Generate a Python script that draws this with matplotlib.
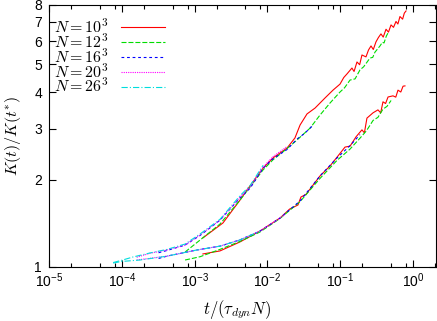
import matplotlib
matplotlib.use("Agg")
import matplotlib.pyplot as plt
from matplotlib.ticker import FixedLocator, NullFormatter

plt.rcParams['font.family'] = ['Liberation Sans', 'DejaVu Sans']
plt.rcParams['mathtext.fontset'] = 'custom'
plt.rcParams['mathtext.rm'] = 'Liberation Sans'
plt.rcParams['mathtext.it'] = 'Liberation Sans:italic'
plt.rcParams['mathtext.bf'] = 'Liberation Sans:bold'
plt.rcParams['lines.scale_dashes'] = False

labels = [r'$N=10^3$', r'$N=12^3$', r'$N=16^3$', r'$N=20^3$', r'$N=26^3$']
colors = ['#ff0000', '#00dd00', '#0000ff', '#ff00ff', '#00dddd']

# ---- upper family of curves ----
t_up_10 = [1.3e-3, 2.45e-3, 4.2e-3, 5.25e-3, 8.7e-3, 0.0119, 0.0186, 0.0239, 0.0281, 0.035,
           0.0451, 0.0618, 0.0796, 0.0994, 0.112, 0.124, 0.145, 0.155, 0.170, 0.185, 0.199,
           0.226, 0.245, 0.265, 0.285, 0.310, 0.335, 0.363, 0.39, 0.426, 0.46, 0.499, 0.54,
           0.584, 0.62, 0.662, 0.72, 0.76, 0.802]
K_up_10 = [1.26, 1.418, 1.70, 1.843, 2.19, 2.375, 2.57, 2.785, 3.086, 3.37,
           3.53, 3.824, 4.07, 4.27, 4.50, 4.63, 4.85, 4.72, 5.09, 4.98, 5.38,
           5.30, 5.60, 5.78, 5.62, 5.97, 6.18, 6.36, 6.20, 6.60, 6.45, 6.83, 6.70,
           7.02, 6.88, 7.30, 7.15, 7.50, 7.63]
t_up_12 = [7.4e-4, 1.19e-3, 2.23e-3, 4.2e-3, 8.7e-3, 0.0119, 0.0186, 0.0255, 0.0385, 0.0528,
           0.0725, 0.0994, 0.115, 0.1366, 0.16, 0.187, 0.21, 0.2565, 0.28, 0.30, 0.352,
           0.38, 0.40, 0.43, 0.454]
K_up_12 = [1.126, 1.239, 1.406, 1.70, 2.16, 2.34, 2.56, 2.74, 3.01, 3.34,
           3.675, 4.01, 4.15, 4.41, 4.45, 4.78, 4.90, 5.25, 5.28, 5.50, 5.78,
           5.95, 5.92, 6.25, 6.41]
t_up_16 = [3.2e-4, 4.18e-4, 7.4e-4, 1.19e-3, 2.23e-3, 4.2e-3, 5.8e-3, 8.7e-3, 0.0119, 0.0186,
           0.0255, 0.032, 0.043]
K_up_16 = [1.12, 1.14, 1.19, 1.285, 1.45, 1.73, 1.87, 2.19, 2.36, 2.54,
           2.76, 2.88, 3.09]
t_up_20 = [1.6e-4, 2.44e-4, 4.18e-4, 7.4e-4, 1.19e-3, 2.23e-3, 4.2e-3, 5.8e-3, 8.7e-3, 0.0119,
           0.0186]
K_up_20 = [1.08, 1.115, 1.145, 1.19, 1.29, 1.45, 1.74, 1.89, 2.21, 2.40,
           2.60]
t_up_26 = [7.6e-5, 1.0e-4, 1.43e-4, 2.44e-4, 4.18e-4, 7.4e-4, 1.19e-3, 2.23e-3, 4.2e-3, 5.8e-3,
           8.7e-3]
K_up_26 = [1.036, 1.055, 1.083, 1.118, 1.15, 1.20, 1.30, 1.46, 1.76, 1.91,
           2.24]

# ---- lower family of curves ----
t_lo_10 = [1.3e-3, 2.23e-3, 4.2e-3, 7.9e-3, 0.0149, 0.0203, 0.0263, 0.0289, 0.0339, 0.0528,
           0.0725, 0.0903, 0.1164, 0.1366, 0.165, 0.199, 0.215, 0.233, 0.2825, 0.330, 0.36,
           0.387, 0.42, 0.454, 0.531, 0.58, 0.622, 0.68, 0.73, 0.776]
K_lo_10 = [1.109, 1.136, 1.22, 1.33, 1.475, 1.585, 1.636, 1.743, 1.78, 2.06,
           2.23, 2.39, 2.59, 2.61, 2.81, 2.97, 2.90, 3.26, 3.40, 3.48, 3.40,
           3.71, 3.66, 3.855, 3.89, 3.85, 4.07, 4.01, 4.20, 4.21]
t_lo_12 = [7.4e-4, 1.19e-3, 2.23e-3, 4.2e-3, 7.9e-3, 0.0149, 0.0281, 0.0528, 0.0903, 0.1366,
           0.187, 0.23, 0.2825, 0.33, 0.387, 0.44, 0.5]
K_lo_12 = [1.057, 1.085, 1.15, 1.225, 1.32, 1.47, 1.68, 2.02, 2.33, 2.55,
           2.78, 2.95, 3.2, 3.28, 3.5, 3.58, 3.75]
t_lo_16 = [3.2e-4, 4.18e-4, 1.08e-3, 2.23e-3, 4.2e-3, 7.9e-3, 0.0149, 0.0281, 0.0528, 0.0903,
           0.1366, 0.187]
K_lo_16 = [1.07, 1.09, 1.145, 1.18, 1.24, 1.33, 1.475, 1.69, 2.06, 2.375,
           2.62, 2.86]
t_lo_20 = [1.6e-4, 4.18e-4, 1.08e-3, 2.23e-3, 4.2e-3, 7.9e-3, 0.0149, 0.0175]
K_lo_20 = [1.057, 1.09, 1.145, 1.18, 1.24, 1.33, 1.475, 1.52]
t_lo_26 = [7.6e-5, 1.0e-4, 1.78e-4, 4.18e-4, 1.08e-3, 2.23e-3, 4.2e-3, 7.9e-3]
K_lo_26 = [1.032, 1.045, 1.057, 1.09, 1.145, 1.18, 1.24, 1.33]

xticks = [1e-5, 1e-4, 1e-3, 1e-2, 1e-1, 1e0]
xtick_labels = [r'$10^{-5}$', r'$10^{-4}$', r'$10^{-3}$', r'$10^{-2}$', r'$10^{-1}$', r'$10^{0}$']
yticks = [1, 2, 3, 4, 5, 6, 7, 8]

styles = ['-', (0, (3.6, 1.4)), (0, (2.0, 2.0)), (0, (0.8, 0.8)), (0, (4.5, 1.5, 0.8, 1.5))]

fig = plt.figure(figsize=(4.37, 3.21), dpi=100)
ax = fig.add_axes([49/437, 1 - 267/321, (436 - 49)/437, (267 - 5)/321])

up = [(t_up_10, K_up_10), (t_up_12, K_up_12), (t_up_16, K_up_16), (t_up_20, K_up_20), (t_up_26, K_up_26)]
lo = [(t_lo_10, K_lo_10), (t_lo_12, K_lo_12), (t_lo_16, K_lo_16), (t_lo_20, K_lo_20), (t_lo_26, K_lo_26)]

handles = []
for i in range(5):
    h, = ax.plot(up[i][0], up[i][1], color=colors[i], lw=0.8, linestyle=styles[i], label=labels[i])
    ax.plot(lo[i][0], lo[i][1], color=colors[i], lw=0.8, linestyle=styles[i])
    handles.append(h)

ax.set_xscale('log')
ax.set_yscale('log')
ax.set_xlim(1e-5, 2.07)
ax.set_ylim(1, 8)

ax.xaxis.set_major_locator(FixedLocator(xticks))
ax.set_xticklabels(xtick_labels)
minors = [m * 10.0**e for e in range(-5, 1) for m in (2, 5, 8)]
ax.xaxis.set_minor_locator(FixedLocator(minors))
ax.xaxis.set_minor_formatter(NullFormatter())
ax.yaxis.set_major_locator(FixedLocator(yticks))
ax.set_yticklabels([str(v) for v in yticks])
ax.yaxis.set_minor_locator(FixedLocator([]))
ax.yaxis.set_minor_formatter(NullFormatter())

ax.tick_params(which='both', direction='in', top=True, right=True, labelsize=10, width=0.8)
ax.tick_params(which='major', length=5)
ax.tick_params(which='minor', length=3)
ax.tick_params(axis='x', pad=3)
ax.tick_params(axis='y', pad=5)
for s in ax.spines.values():
    s.set_linewidth(0.8)

ax.set_xlabel(r'$t/(\tau_{dyn}N)$', fontsize=12, math_fontfamily='cm')
ax.set_ylabel(r'$K(t)/K(t^{*})$', fontsize=11.5, math_fontfamily='cm')
ax.xaxis.set_label_coords(0.487, -0.118)
ax.yaxis.set_label_coords(-0.068, 0.5)

leg = ax.legend(handles=handles, loc='upper left', bbox_to_anchor=(0.0, 0.972),
                frameon=False, markerfirst=False, fontsize=11.5, handlelength=2.75,
                handleheight=0.5, handletextpad=0.8, labelspacing=-0.22,
                borderaxespad=0.3, borderpad=0.0)
for txt in leg.get_texts():
    txt.set_math_fontfamily('cm')

fig.savefig('out.png', dpi=100)
